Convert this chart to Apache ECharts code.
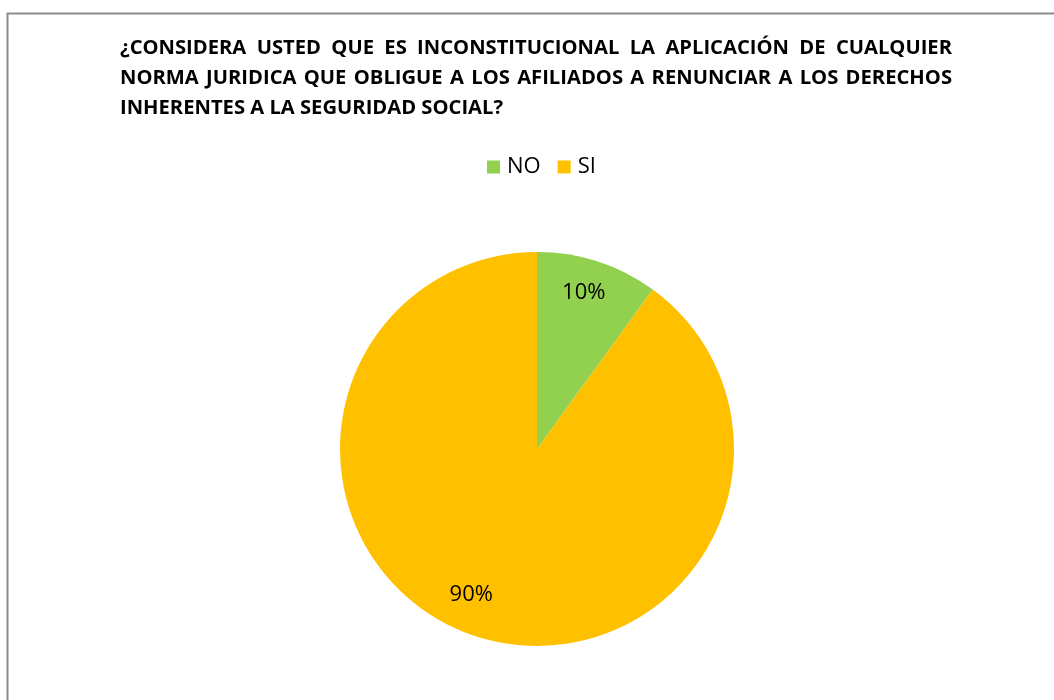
<!DOCTYPE html>
<html>
<head>
<meta charset="utf-8">
<script src="https://cdn.jsdelivr.net/npm/echarts@6/dist/echarts.min.js"></script>
<style>
  html, body { margin: 0; padding: 0; background: #fff; overflow: hidden; }
  #chart { width: 1054px; height: 700px; }
</style>
</head>
<body>
<div id="chart"></div>
<script>
const categories = ['NO', 'SI']
const percents = [10, 90]
const colors = ['#92D050', '#FFC000']
const titleLines = [
  '¿CONSIDERA USTED QUE ES INCONSTITUCIONAL LA APLICACIÓN DE CUALQUIER',
  'NORMA JURIDICA QUE OBLIGUE A LOS AFILIADOS A RENUNCIAR A LOS DERECHOS',
  'INHERENTES A LA SEGURIDAD SOCIAL?'
]

const chart = echarts.init(document.getElementById('chart'))

// title is justified in the original, so place each word by hand
const ctx = document.createElement('canvas').getContext('2d')
const family = '"Open Sans", sans-serif'
ctx.font = 'bold 100px ' + family
// size the font so the last (unjustified) line is as wide as in the original
const lastW100 = ctx.measureText(titleLines[2]).width
const titleSize = Math.round(383 / lastW100 * 100 * 10) / 10
const titleFont = 'bold ' + titleSize + 'px ' + family
ctx.font = titleFont
const titleLeft = 120
const titleRight = 952
const titleTop = 38
const lineHeight = 30
const spaceW = ctx.measureText(' ').width

const titleTexts = []
titleLines.forEach((line, i) => {
  const words = line.split(' ')
  const widths = words.map(w => ctx.measureText(w).width)
  const total = widths.reduce((a, b) => a + b, 0)
  const last = i === titleLines.length - 1
  const gap = last ? spaceW : (titleRight - titleLeft - total) / (words.length - 1)
  let x = titleLeft
  words.forEach((w, j) => {
    titleTexts.push({
      type: 'text',
      left: x,
      top: titleTop + i * lineHeight,
      style: { text: w, font: titleFont, fill: '#000' }
    })
    x += widths[j] + gap
  })
})

const pieData = categories.map((name, i) => ({
  name,
  value: percents[i],
  itemStyle: { color: colors[i] }
}))

chart.setOption({
  animation: false,
  graphic: [
    {
      type: 'rect',
      shape: { x: 7.5, y: 13.5, width: 1200, height: 900 },
      style: { fill: 'none', stroke: '#8c8c8c', lineWidth: 2 },
      silent: true
    },
    ...titleTexts
  ],
  legend: {
    data: categories,
    top: 151,
    left: 482,
    itemWidth: 13,
    itemHeight: 13,
    itemGap: 17,
    icon: 'rect',
    textStyle: { fontSize: 22, color: '#000', fontFamily: family, padding: [0, 0, 0, 2] }
  },
  series: [
    {
      type: 'pie',
      center: [537, 449],
      radius: [0, 197],
      startAngle: 90,
      clockwise: true,
      data: pieData,
      label: { show: false },
      labelLine: { show: false },
      emphasis: { disabled: true }
    },
    {
      // transparent ring, only used to place the percent labels
      type: 'pie',
      center: [537, 449],
      radius: [119, 197],
      startAngle: 90,
      clockwise: true,
      silent: true,
      data: categories.map((name, i) => ({ name, value: percents[i] })),
      itemStyle: { color: 'rgba(0,0,0,0)' },
      label: {
        show: true,
        position: 'inside',
        formatter: '{c}%',
        fontSize: 22,
        color: '#000',
        fontFamily: family
      },
      labelLayout: (p) => (p.dataIndex === 1 ? { dx: -16, dy: -7 } : { dx: -3, dy: -3 }),
      labelLine: { show: false },
      emphasis: { disabled: true }
    }
  ]
})
</script>
</body>
</html>
